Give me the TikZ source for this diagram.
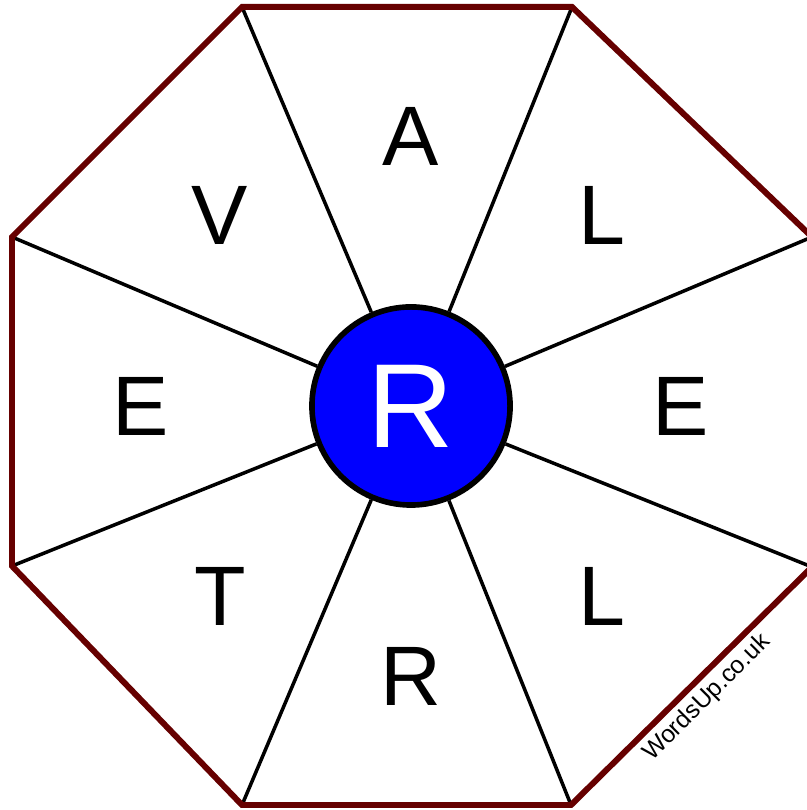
\documentclass[tikz,border=0pt]{standalone}
\usepackage{fontspec}
\setmainfont{Liberation Sans}
\usetikzlibrary{calc}
\definecolor{Rim}{HTML}{660000}
\definecolor{HubBlue}{HTML}{0000FF}
\tikzset{rim/.style={draw=Rim,line width=1.7pt,line join=miter},spoke/.style={draw=black,line width=1pt},hubnode/.style={circle,draw=black,fill=HubBlue,line width=1.6pt,minimum size=1.98cm,inner sep=0pt,font=\fontsize{34}{34}\selectfont,text=white},letter/.style={inner sep=0pt,font=\fontsize{24}{24}\selectfont},sitemark/.style={inner sep=0pt,font=\fontsize{7}{7}\selectfont,rotate=45}}
\begin{document}
\begin{tikzpicture}[x=.01cm,y=.01cm]
      \clip(0,0)rectangle(807,810);
      \coordinate(v1)at(242,803);\coordinate(v2)at(572,803);\coordinate(v3)at(812,573);\coordinate(v4)at(812,243);
      \coordinate(v5)at(571,5);\coordinate(v6)at(242,5);\coordinate(v7)at(12,244);\coordinate(v8)at(12,573);
      \node[hubnode](hub)at(411,404){R};
      \foreach \i in {1,...,8}{\draw[spoke](v\i)--(hub);}
      \draw[rim](v1)--(v2)--(v3)--(v4)--(v5)--(v6)--(v7)--(v8)--cycle;
      \foreach \l/\a [count=\i] in {A/90,L/45,E/0,L/-45,R/-90,T/-135,E/180,V/135}
        \node[letter](let\i)at($(hub)+(\a:270)$){\l};
      \node[sitemark](site)at(707,112){WordsUp.co.uk};
    \end{tikzpicture}
\end{document}
